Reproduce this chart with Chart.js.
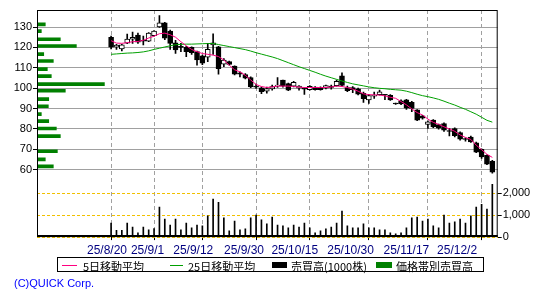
<!DOCTYPE html>
<html>
<head>
<meta charset="utf-8">
<script src="https://cdn.jsdelivr.net/npm/chart.js@4.4.0/dist/chart.umd.min.js"></script>
<style>
  body { margin: 0; background: #fff; }
  #wrap { position: relative; width: 550px; height: 300px; overflow: hidden; }
  #chart { position: absolute; left: 0; top: 0; }
  .lg-box { position: absolute; left: 57px; top: 257px; width: 425px; height: 13px; border: 1px solid #000; }
  .lg-text { position: absolute; top: 258px; line-height: 14px; font: 11px "Noto Sans CJK JP", sans-serif; color: #000; white-space: nowrap; }
  .lg-mark { position: absolute; }
  .copy { position: absolute; left: 14px; top: 277px; line-height: 14px; font: 11px "Liberation Sans", sans-serif; color: #0000ff; }
</style>
</head>
<body>
<div id="wrap">
  <canvas id="chart" width="550" height="300"></canvas>
  <div class="lg-box"></div>
  <div class="lg-mark" style="left:62px;top:265px;width:15px;height:1px;background:#ff0080"></div>
  <div class="lg-text" style="left:83px">5日移動平均</div>
  <div class="lg-mark" style="left:170px;top:265px;width:13px;height:1px;background:#00a000"></div>
  <div class="lg-text" style="left:188px">25日移動平均</div>
  <div class="lg-mark" style="left:272px;top:262px;width:15px;height:6px;background:#000"></div>
  <div class="lg-text" style="left:291px">売買高(1000株)</div>
  <div class="lg-mark" style="left:376px;top:262px;width:16px;height:6px;background:#008000"></div>
  <div class="lg-text" style="left:396px">価格帯別売買高</div>
  <div class="copy">(C)QUICK Corp.</div>
</div>
<script>
// trading days 25/8/20 .. 25/12/4, index 0..71
const dateTickIndex = [0, 8, 17, 27, 37, 48, 59, 69];
const dateTickLabels = ["25/8/20", "25/9/1", "25/9/12", "25/9/30", "25/10/15", "25/10/30", "25/11/17", "25/12/2"];

const opens = [125.0, 120.2, 119.2, 122.1, 124.0, 126.0, 123.5, 123.1, 125.7, 130.0,
  132.0, 128.0, 122.3, 120.3, 120.0, 120.0, 117.9, 115.8, 115.2, 121.2,
  120.3, 111.8, 113.0, 110.8, 107.5, 106.7, 105.2, 101.0, 100.2, 98.5,
  99.6, 101.0, 103.9, 102.2, 101.0, 100.0, 99.8, 99.2, 100.5, 100.3,
  100.0, 101.0, 101.2, 106.0, 100.3, 100.3, 99.6, 97.5, 94.2, 96.0,
  96.8, 96.7, 96.5, 92.4, 93.8, 94.2, 93.0, 89.3, 86.4, 82.2,
  84.3, 82.1, 82.6, 79.0, 80.2, 78.2, 75.1, 76.0, 73.2, 69.9,
  67.0, 64.0];
const highs = [125.5, 121.5, 121.5, 126.5, 127.5, 127.0, 125.6, 127.3, 128.3, 135.6,
  132.3, 128.5, 123.5, 122.0, 120.5, 120.3, 118.2, 116.2, 122.0, 126.6,
  120.5, 114.5, 113.3, 111.0, 108.0, 107.2, 105.5, 102.0, 100.5, 100.5,
  101.5, 105.2, 104.0, 102.5, 103.3, 101.2, 100.2, 101.3, 100.8, 100.6,
  101.5, 101.5, 104.0, 107.5, 101.0, 100.8, 100.0, 98.0, 97.0, 98.0,
  99.0, 96.9, 96.8, 92.6, 94.3, 94.5, 93.5, 89.5, 86.6, 84.0,
  84.5, 82.4, 83.0, 80.3, 80.5, 78.5, 75.6, 76.5, 73.5, 70.2,
  67.3, 64.5];
const lows = [119.3, 119.0, 118.3, 121.8, 122.0, 122.0, 121.2, 122.8, 125.5, 129.8,
  123.8, 119.0, 117.0, 117.9, 115.5, 116.5, 111.3, 111.5, 113.0, 116.5,
  106.9, 110.5, 111.3, 106.5, 105.5, 104.5, 100.2, 99.8, 97.3, 97.5,
  99.0, 100.3, 100.5, 98.7, 100.6, 99.0, 96.9, 99.0, 99.0, 99.0,
  99.6, 99.5, 101.0, 101.0, 98.3, 97.8, 96.7, 93.0, 92.5, 95.0,
  96.5, 94.3, 94.0, 92.0, 91.9, 89.6, 88.5, 84.0, 84.8, 80.2,
  80.6, 79.8, 78.8, 76.5, 76.0, 74.5, 73.9, 73.3, 68.3, 65.5,
  62.4, 58.3];
const closes = [120.1, 121.1, 121.3, 124.1, 125.0, 122.6, 123.0, 127.0, 128.0, 132.0,
  124.5, 122.0, 118.8, 120.0, 117.9, 117.4, 113.8, 112.2, 119.1, 122.3,
  109.6, 113.8, 111.7, 106.9, 106.8, 104.9, 100.6, 100.5, 98.3, 99.8,
  100.8, 101.5, 101.0, 99.0, 102.8, 101.0, 99.5, 100.9, 99.2, 99.2,
  101.3, 100.3, 103.4, 101.3, 98.7, 99.2, 97.0, 94.8, 96.4, 96.5,
  98.2, 96.5, 94.2, 92.2, 92.2, 90.1, 90.0, 84.3, 85.2, 83.4,
  81.0, 80.3, 79.4, 78.7, 76.6, 75.0, 74.8, 73.6, 68.6, 66.2,
  62.7, 58.7];
const volumes = [640, 310, 310, 640, 460, 190, 460, 330, 390, 1360,
  820, 550, 820, 330, 640, 420, 550, 510, 960, 1720,
  1580, 870, 280, 730, 330, 370, 870, 1000, 780, 600,
  910, 550, 510, 420, 550, 460, 640, 420, 190, 280,
  370, 460, 640, 1180, 510, 420, 420, 600, 420, 420,
  330, 330, 190, 150, 190, 420, 870, 910, 730, 820,
  510, 420, 1000, 640, 690, 820, 640, 960, 1360, 1490,
  1270, 2390];
const ma5 = [123.3, 122.1, 122.0, 122.3, 122.8, 122.9, 123.5, 124.6, 125.5, 126.7,
  127.0, 126.2, 125.0, 122.8, 120.8, 119.0, 117.9, 117.0, 116.6, 116.2,
  115.5, 113.8, 111.3, 109.0, 108.0, 106.3, 104.0, 101.8, 100.8, 100.3,
  100.6, 101.0, 101.0, 101.0, 100.8, 100.5, 100.3, 100.3, 100.3, 100.3,
  100.3, 100.6, 101.0, 100.8, 100.3, 99.5, 98.5, 97.2, 96.8, 96.7,
  96.6, 96.2, 95.5, 95.0, 93.4, 91.8, 89.8, 88.0, 86.8, 84.8,
  83.2, 82.2, 81.0, 80.0, 78.8, 77.0, 75.8, 74.8, 72.0, 69.8,
  67.5, 66.0];
const ma25 = [116.6, 116.8, 117.0, 117.2, 117.3, 117.5, 117.8, 118.3, 119.0, 119.6,
  120.2, 120.8, 121.3, 121.5, 121.6, 121.6, 121.7, 121.8, 121.9, 121.9,
  121.4, 120.9, 120.4, 119.9, 119.4, 118.9, 118.2, 117.4, 116.7, 116.0,
  115.3, 114.5, 113.5, 112.5, 111.5, 110.5, 109.6, 108.7, 107.8, 106.8,
  105.9, 105.1, 104.3, 103.5, 102.8, 102.1, 101.6, 101.1, 100.6, 100.2,
  99.9, 99.7, 99.4, 99.2, 99.0, 98.5, 97.8, 97.0, 96.3, 95.8,
  95.2, 94.5, 93.6, 92.6, 91.7, 90.6, 89.6, 88.4, 87.2, 85.7,
  84.2, 83.3];

// volume by price band (relative, largest band = 100)
const vpPrices = [131.3, 128.0, 124.0, 120.7, 116.7, 113.3, 109.3, 105.9, 102.0, 98.7,
  94.6, 91.1, 87.2, 83.8, 80.2, 76.4, 69.0, 65.0, 61.6];
const vpVolumes = [12.3, 6.4, 34.6, 58.4, 10, 24.2, 15.3, 21.2, 100, 42,
  17.4, 16.8, 6.4, 17.4, 28.7, 34.6, 30.2, 12.3, 24.2];

const priceTicks = [60, 70, 80, 90, 100, 110, 120, 130];
const volumeTicks = [0, 1000, 2000];

const idx = opens.map((_, i) => i);
const axisFont = { family: "Liberation Sans", size: 11 };

const framePlugin = {
  id: "frame",
  afterDatasetsDraw(chart) {
    const { ctx, chartArea: a } = chart;
    ctx.save();
    ctx.strokeStyle = "#000";
    ctx.lineWidth = 1;
    ctx.strokeRect(a.left + 0.5, a.top + 0.5, a.right - a.left - 1, a.bottom - a.top - 1);
    ctx.lineWidth = 2;
    ctx.beginPath();
    ctx.moveTo(a.left, a.bottom - 1);
    ctx.lineTo(a.right, a.bottom - 1);
    ctx.stroke();
    ctx.restore();
  }
};

const ctx = document.getElementById("chart").getContext("2d");
new Chart(ctx, {
  type: "bar",
  data: {
    datasets: [
      {
        type: "line",
        label: "5日移動平均",
        data: idx.map(i => ({ x: i, y: ma5[i] })),
        borderColor: "#ff0080",
        borderWidth: 1,
        pointRadius: 0,
        xAxisID: "x",
        yAxisID: "y",
        order: 0
      },
      {
        type: "line",
        label: "25日移動平均",
        data: idx.map(i => ({ x: i, y: ma25[i] })),
        borderColor: "#00a000",
        borderWidth: 1,
        pointRadius: 0,
        xAxisID: "x",
        yAxisID: "y",
        order: 0
      },
      {
        label: "body",
        data: idx.map(i => ({ x: i, y: [opens[i], closes[i]] })),
        backgroundColor: idx.map(i => closes[i] >= opens[i] ? "#ffffff" : "#000000"),
        borderColor: "#000",
        borderWidth: 1,
        borderSkipped: false,
        barThickness: 5,
        minBarLength: 1,
        grouped: false,
        xAxisID: "x",
        yAxisID: "y",
        order: 1
      },
      {
        label: "wick",
        data: idx.map(i => ({ x: i, y: [lows[i], highs[i]] })),
        backgroundColor: "#000",
        barThickness: 1,
        grouped: false,
        xAxisID: "x",
        yAxisID: "y",
        order: 2
      },
      {
        label: "売買高(1000株)",
        data: idx.map(i => ({ x: i, y: volumes[i] })),
        backgroundColor: "#000",
        barThickness: 1,
        grouped: false,
        xAxisID: "x",
        yAxisID: "yVol",
        order: 3
      },
      {
        label: "価格帯別売買高",
        indexAxis: "y",
        data: vpPrices.map((p, k) => ({ x: vpVolumes[k], y: p })),
        backgroundColor: "#008000",
        barThickness: 3,
        grouped: false,
        xAxisID: "xVP",
        yAxisID: "y",
        order: 4
      }
    ]
  },
  options: {
    responsive: false,
    animation: false,
    layout: { padding: { top: 10, bottom: 39.5, left: 0, right: 0 } },
    plugins: { legend: { display: false }, tooltip: { enabled: false } },
    scales: {
      x: {
        type: "linear",
        position: "bottom",
        weight: 0,
        min: -13.8,
        max: 72,
        offset: false,
        afterBuildTicks: s => { s.ticks = dateTickIndex.map(v => ({ value: v })); },
        ticks: { display: false },
        grid: { color: "#a0a0a0", offset: false, tickLength: 3, tickColor: "#000", tickBorderDash: [] },
        border: { display: false, dash: [4, 3] }
      },
      xLab: {
        type: "linear",
        position: "bottom",
        weight: 1,
        min: -13.8,
        max: 77,
        offset: false,
        afterBuildTicks: s => { s.ticks = dateTickIndex.map(v => ({ value: v })); },
        ticks: {
          callback: v => dateTickLabels[dateTickIndex.indexOf(v)],
          color: "#000080",
          font: { family: "Liberation Sans", size: 12 },
          padding: 3,
          maxRotation: 0,
          autoSkip: false
        },
        grid: { display: false, drawTicks: false, offset: false },
        border: { display: false }
      },
      xVP: { type: "linear", min: 0, max: 683.5, offset: false, grid: { offset: false }, display: false },
      y: {
        type: "linear",
        position: "left",
        min: 26.86,
        max: 138.36,
        offset: false,
        afterBuildTicks: s => { s.ticks = priceTicks.map(v => ({ value: v })); },
        afterFit: s => { s.width = 37; },
        ticks: { color: "#000", font: axisFont, padding: 1 },
        grid: { color: "#a0a0a0", offset: false, tickLength: 4, tickColor: "#000" },
        border: { display: false }
      },
      yVol: {
        type: "linear",
        position: "right",
        min: 0,
        max: 10300,
        offset: false,
        afterBuildTicks: s => { s.ticks = volumeTicks.map(v => ({ value: v })); },
        afterFit: s => { s.width = 52.3; },
        ticks: { color: "#000", font: axisFont, padding: 1, callback: v => v.toLocaleString("en-US") },
        grid: { color: "#f0c000", offset: false, tickLength: 4, tickColor: "#000", tickBorderDash: [] },
        border: { display: false, dash: [3, 2] }
      }
    }
  },
  plugins: [framePlugin]
});
</script>
</body>
</html>
